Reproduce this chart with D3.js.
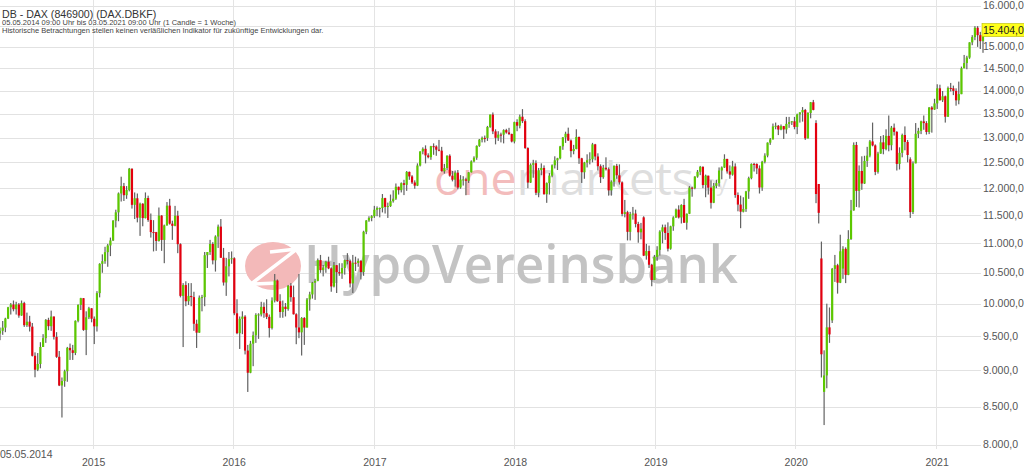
<!DOCTYPE html>
<html><head><meta charset="utf-8">
<script src="https://cdn.jsdelivr.net/npm/d3@7"></script>
<style>html,body{margin:0;padding:0;background:#fff;overflow:hidden}</style>
</head><body>
<svg id="chart" width="1024" height="474"></svg>
<script>
const titleText = "DB - DAX (846900) (DAX.DBKF)";
const subtitleText = "05.05.2014 09:00 Uhr bis 03.05.2021 09:00 Uhr (1 Candle = 1 Woche)";
const disclaimerText = "Historische Betrachtungen stellen keinen verläßlichen Indikator für zukünftige Entwicklungen dar.";
const firstWeek = "2014-05-05";
const lastWeek = "2021-05-03";
const startLabel = "05.05.2014";
const yearLabels = ["2015","2016","2017","2018","2019","2020","2021"];
const yTicks = [8000,8500,9000,9500,10000,10500,11000,11500,12000,12500,13000,13500,14000,14500,15000,15500,16000];
const lastPrice = 15404;

// weekly candles [open, high, low, close]
const c2014 = [
[9540,9630,9440,9581],[9581,9730,9520,9629],[9629,9780,9560,9768],[9768,9950,9760,9943],
[9943,10010,9830,9987],[9987,10050,9880,9913],[9913,10030,9830,9987],[9987,10010,9780,9815],[9815,10050,9810,10009],
[10009,10030,9640,9666],[9666,9860,9640,9720],[9720,9810,9570,9644],[9644,9700,9200,9210],
[9210,9260,8903,9010],[9010,9250,8990,9092],[9092,9410,9030,9339],[9339,9530,9340,9470],
[9470,9760,9400,9747],[9747,9780,9590,9651],[9651,9891,9580,9799],[9799,9800,9450,9490],[9490,9560,9180,9195],
[9195,9280,8780,8788],[8788,8900,8355,8850],[8850,9010,8770,8988],[8988,9340,8840,9326],
[9326,9390,9150,9291],[9291,9370,9150,9252],[9252,9740,9220,9733],[9733,9990,9710,9980],
[9980,10093,9900,10087],[10087,10090,9580,9594],[9594,9880,9220,9787],[9787,9950,9760,9927],[9927,9930,9710,9765]
];
const c2015 = [
[9765,9800,9382,9648],[9648,10200,9570,10168],[10168,10660,10100,10649],[10649,10810,10500,10694],
[10694,10940,10650,10847],[10847,10990,10600,10963],[10963,11100,10780,11050],[11050,11410,11040,11401],
[11401,11600,11280,11551],[11551,11920,11390,11901],[11901,12220,11750,12039],[12039,12100,11760,11868],[11868,12040,11800,11967],
[11967,12390,11940,12375],[12375,12380,11620,11689],[11689,11920,11430,11811],[11811,11900,11370,11454],
[11454,11730,11130,11709],[11709,11720,11300,11447],[11447,11920,11440,11815],[11815,11860,11380,11413],
[11413,11530,11100,11197],[11197,11410,10860,11196],[11196,11200,10870,11041],[11041,11640,11030,11492],[11492,11500,10870,11059],
[11059,11330,10660,11316],[11316,11740,11310,11674],[11674,11800,11330,11347],[11347,11400,11060,11308],
[11308,11670,11300,11490],[11490,11580,10830,10985],[10985,11000,10100,10124],[10124,10330,9338,10298],[10298,10360,9960,10038],
[10038,10330,9980,10123],[10123,10330,9960,10104],[10104,10190,9580,9688],[9688,9750,9325,9553],
[9553,10130,9550,10096],[10096,10140,9880,10104],[10104,10850,9960,10795],[10795,10850,10580,10850],
[10850,11060,10800,10988],[10988,11020,10640,10708],[10708,11140,10520,11119],[11119,11330,10920,11294],[11294,11430,10750,10752],
[10752,10920,10290,10340],[10340,10750,10124,10608],[10608,10850,10440,10727],[10727,10860,10650,10743]
];
const c2016 = [
[10743,10760,9820,9849],[9849,10070,9530,9545],[9545,9800,9310,9764],[9764,9880,9530,9798],
[9798,9820,9230,9286],[9286,9370,8699,8967],[8967,9430,8960,9388],[9388,9570,9060,9513],[9513,9850,9400,9824],
[9824,9850,9460,9831],[9831,10030,9800,9950],[9950,10020,9780,9851],[9851,10070,9760,9794],
[9794,9830,9480,9622],[9622,10100,9600,10051],[10051,10480,10020,10373],[10373,10390,10030,10039],
[10039,10150,9780,9870],[9870,10050,9780,9952],[9952,10010,9800,9916],[9916,10300,9890,10287],[10287,10330,10030,10103],
[10103,10290,9830,9834],[9834,9850,9380,9631],[9631,10480,9470,9557],[9557,9790,9214,9776],
[9776,9790,9370,9630],[9630,10090,9630,10067],[10067,10190,9890,10147],[10147,10350,10080,10337],
[10337,10400,10060,10367],[10367,10740,10360,10713],[10713,10800,10500,10544],[10544,10630,10440,10588],[10588,10700,10500,10684],
[10684,10770,10560,10573],[10573,10590,10190,10276],[10276,10680,10260,10626],[10626,10630,10170,10511],
[10511,10660,10450,10490],[10490,10660,10400,10580],[10580,10720,10470,10711],[10711,10830,10640,10696],[10696,10720,10260,10325],
[10325,10800,10170,10668],[10668,10770,10530,10664],[10664,10740,10600,10700],[10700,10710,10390,10513],
[10513,11220,10450,11203],[11203,11410,11160,11404],[11404,11480,11380,11450],[11450,11500,11390,11481]
];
const c2017 = [
[11481,11670,11450,11599],[11599,11660,11480,11629],[11629,11640,11460,11630],[11630,11890,11550,11814],[11814,11820,11530,11651],
[11651,11730,11450,11666],[11666,11880,11650,11757],[11757,11960,11730,11804],[11804,12090,11780,12027],
[12027,12030,11880,11963],[11963,12110,11920,12095],[12095,12160,11870,12064],[12064,12330,11950,12313],
[12313,12320,12160,12225],[12225,12250,12080,12109],[12109,12150,11990,12049],[12049,12480,12040,12438],
[12438,12720,12420,12717],[12717,12800,12660,12770],[12770,12840,12480,12638],[12638,12680,12580,12602],[12602,12830,12550,12823],
[12823,12880,12650,12816],[12816,12840,12630,12752],[12752,12951,12720,12733],[12733,12810,12320,12325],
[12325,12470,12280,12389],[12389,12640,12350,12631],[12631,12660,12220,12240],[12240,12330,12130,12162],[12162,12340,12030,12298],
[12298,12350,11980,12014],[12014,12250,11990,12165],[12165,12230,12050,12168],[12168,12200,11868,12142],
[12142,12310,12100,12304],[12304,12540,12300,12519],[12519,12620,12500,12592],[12592,12840,12550,12829],
[12829,12970,12810,12956],[12956,13020,12900,12992],[12992,13040,12900,12991],[12991,13240,12930,13218],[13218,13480,13200,13479],
[13479,13525,13070,13127],[13127,13170,12860,12994],[12994,13130,12930,13060],[13060,13100,12900,13058],
[13058,13170,12880,13153],[13153,13180,13080,13104],[13104,13200,13050,13072],[13072,13080,12900,12918]
];
const c2018 = [
[12918,13330,12880,13320],[13320,13380,13130,13245],[13245,13480,13190,13434],[13434,13596,13300,13340],[13340,13380,12770,12785],
[12785,12800,12000,12107],[12107,12480,12100,12452],[12452,12550,12200,12483],[12483,12540,11870,11914],
[11914,12390,11830,12346],[12346,12480,12250,12390],[12390,12440,11880,11886],[11886,12110,11726,12097],
[12097,12290,11880,12241],[12241,12460,12210,12442],[12442,12620,12380,12540],[12540,12590,12350,12580],[12580,12830,12560,12819],
[12819,13010,12750,13001],[13001,13120,12890,13077],[13077,13204,12930,12938],[12938,12960,12600,12724],
[12724,12850,12660,12767],[12767,13170,12760,13011],[13011,13020,12470,12580],[12580,12590,12100,12306],
[12306,12510,12180,12496],[12496,12660,12400,12541],[12541,12700,12460,12561],[12561,12890,12500,12860],[12860,12870,12540,12616],
[12616,12680,12340,12424],[12424,12460,12100,12211],[12211,12450,12180,12394],[12394,12600,12340,12364],
[12364,12400,11860,11959],[11959,12150,11860,12124],[12124,12440,12030,12431],[12431,12470,12180,12247],
[12247,12460,12070,12111],[12111,12130,11480,11523],[11523,11780,11460,11554],[11554,11580,11050,11201],[11201,11560,11050,11519],
[11519,11650,11420,11529],[11529,11600,11280,11341],[11341,11380,11010,11193],[11193,11360,11070,11257],
[11460,11480,10780,10788],[10788,10990,10720,10866],[10866,10960,10580,10634],[10634,10650,10279,10381],[10381,10800,10380,10767]
];
const c2019 = [
[10767,10950,10700,10887],[10887,11230,10790,11205],[11205,11330,11000,11282],[11282,11330,11060,11181],
[11181,11370,10860,10907],[10907,11310,10890,11299],[11299,11480,11220,11457],[11457,11620,11450,11602],
[11602,11680,11440,11458],[11458,11700,11350,11686],[11686,11800,11360,11364],[11364,11530,11240,11526],
[11526,12040,11520,12010],[12010,12030,11840,11999],[11999,12230,11980,12222],[12222,12350,12200,12315],[12315,12430,12250,12412],
[12412,12420,12000,12060],[12060,12260,11830,12239],[12239,12240,11880,12011],[12011,12150,11620,11727],
[11727,12100,11720,12045],[12045,12160,12000,12096],[12096,12400,12030,12340],[12340,12420,12170,12399],
[12399,12660,12390,12568],[12568,12570,12280,12323],[12323,12440,12180,12260],[12260,12530,12240,12419],[12419,12480,11820,11872],
[11872,11920,11570,11694],[11694,11860,11266,11563],[11563,11830,11550,11612],[11612,11950,11560,11939],
[11939,12220,11800,12192],[12192,12480,12170,12469],[12469,12490,12320,12468],[12468,12480,12270,12381],[12381,12440,11900,12013],
[12013,12530,11950,12512],[12512,12680,12480,12634],[12634,12900,12600,12895],[12895,12990,12850,12961],
[12961,13290,12960,13229],[13229,13310,13170,13242],[13242,13260,13050,13164],[13164,13270,13150,13236],
[13236,13240,12970,13167],[13167,13430,13080,13283],[13283,13430,13200,13319],[13319,13340,13260,13337],[13337,13430,13170,13219]
];
const c2020 = [
[13219,13500,13070,13483],[13483,13530,13310,13526],[13526,13640,13330,13577],[13577,13600,12950,12982],
[12982,13530,12980,13514],[13514,13750,13400,13744],[13744,13795,13570,13579],[13300,13360,11720,11890],
[12080,12080,11350,11542],[10740,11030,8900,9232],[8700,9290,8256,8929],[8929,10000,8750,9633],[9633,9940,9400,9526],
[9740,10580,9700,10565],[10565,10800,10350,10626],[10626,10650,10160,10337],[10337,11150,10330,10862],
[10570,10950,10400,10904],[10904,10930,10330,10465],[10465,11230,10460,11074],[11074,11780,11060,11587],
[11587,12900,11580,12848],[12848,12910,11650,11949],[11949,12440,11640,12331],[12331,12620,11970,12089],[12089,12630,12080,12528],
[12528,12810,12410,12634],[12634,12950,12600,12920],[12920,13310,12820,12838],[12838,12860,12250,12313],
[12313,12710,12280,12675],[12675,13030,12670,12901],[12901,13050,12660,12765],[12765,13170,12740,13033],[13033,13460,12720,12843],
[12843,13240,12740,13203],[13203,13290,13040,13116],[13116,13130,12340,12469],[12469,12800,12360,12689],
[12689,13080,12600,13051],[13051,13230,12740,12909],[12909,12950,12500,12646],[12560,12600,11450,11556],
[11556,12520,11520,12480],[12480,13300,12480,13077],[13077,13200,12990,13137],[13137,13350,13070,13335],[13335,13460,13160,13299],
[13299,13340,13060,13114],[13114,13640,13070,13631],[13631,13660,13100,13587],[13587,13820,13580,13719]
];
const c2021 = [
[13719,14140,13600,14050],[14050,14130,13780,13788],[13788,13990,13750,13874],[13874,13890,13310,13433],
[13433,14090,13430,14057],[14057,14170,13980,14050],[14050,14110,13900,13993],[13993,14050,13670,13786],
[13786,14200,13700,13921],[13921,14540,13920,14502],[14502,14810,14500,14621],[14621,14790,14480,14749],[14749,15110,14720,15107],
[15107,15280,15040,15234],[15234,15500,15160,15460],[15460,15500,15000,15280],[15280,15360,14950,15136],
[15136,15420,14860,15404]
];

const parse = d3.utcParse("%Y-%m-%d");
const weeks = d3.utcMonday.range(parse(firstWeek), d3.utcDay.offset(parse(lastWeek), 1));
const rows = [].concat(c2014, c2015, c2016, c2017, c2018, c2019, c2020, c2021);
const data = rows.map((r, i) => ({date: weeks[i], open: r[0], high: r[1], low: r[2], close: r[3]}));

const W = 1024, H = 474;
const svg = d3.select("#chart");
svg.append("rect").attr("width", W).attr("height", H).attr("fill", "#fff");

const x = d3.scaleUtc().domain([parse(firstWeek), parse(lastWeek)]).range([0, 983]);
const y = d3.scaleLog().domain([8000, 16000]).range([445, 6]);

const de = d3.formatLocale({decimal: ",", thousands: ".", grouping: [3], currency: ["", " €"]});
const fmt = de.format(",.1f");
const font = "'Liberation Sans', Arial, sans-serif";

// grid
const grid = svg.append("g");
grid.selectAll("line.h").data(yTicks).join("line")
  .attr("x1", 0).attr("x2", 981)
  .attr("y1", d => Math.round(y(d)) + 0.5).attr("y2", d => Math.round(y(d)) + 0.5)
  .attr("stroke", "#e2e2e2").attr("stroke-width", 1);
const yearDates = yearLabels.map(s => parse(s + "-01-01"));
grid.selectAll("line.v").data(yearDates).join("line")
  .attr("x1", d => Math.round(x(d)) + 0.5).attr("x2", d => Math.round(x(d)) + 0.5)
  .attr("y1", 0).attr("y2", 449)
  .attr("stroke", "#e4e4e4").attr("stroke-width", 1);

// watermark
const wm = svg.append("g");
const om = wm.append("text").attr("x", 434).attr("y", 195)
  .attr("font-family", "'Open Sans', sans-serif").attr("font-size", 46)
  .attr("textLength", 260).attr("lengthAdjust", "spacingAndGlyphs");
om.append("tspan").attr("fill", "#f3bcbc").text("one");
om.append("tspan").attr("fill", "#dedede").text("markets");
wm.append("text").attr("x", 704).attr("y", 191)
  .attr("font-family", "'Open Sans', sans-serif").attr("font-size", 21)
  .attr("fill", "#e3e3e3").text("by");
wm.append("ellipse").attr("cx", 273).attr("cy", 266).attr("rx", 28).attr("ry", 24).attr("fill", "#f3b9b9");
wm.append("polyline").attr("points", "270,252 297,249 251,284 278,283")
  .attr("fill", "none").attr("stroke", "#fff").attr("stroke-width", 3.5).attr("stroke-linejoin", "miter");
wm.append("text").attr("x", 304).attr("y", 283)
  .attr("font-family", "'Open Sans', sans-serif").attr("font-weight", 600).attr("font-size", 53)
  .attr("textLength", 434).attr("lengthAdjust", "spacingAndGlyphs")
  .attr("fill", "#c3c3c3").text("HypoVereinsbank");

// candles
const cg = svg.append("g");
const up = "#5cc800", down = "#e3000f";
const cand = cg.selectAll("g").data(data).join("g");
cand.append("rect")
  .attr("x", d => x(d.date) - 0.6).attr("width", 1.2)
  .attr("y", d => y(d.high)).attr("height", d => Math.max(0.8, y(d.low) - y(d.high)))
  .attr("fill", "#626262");
cand.append("rect")
  .attr("x", d => x(d.date) - 1.1).attr("width", 2.2)
  .attr("y", d => y(Math.max(d.open, d.close)))
  .attr("height", d => Math.max(1, Math.abs(y(d.open) - y(d.close))))
  .attr("fill", d => d.close >= d.open ? up : down);

// y labels (the one hidden under the last-price box is not shown, as in the reference)
const lastY = y(lastPrice);
svg.append("g").selectAll("text").data(yTicks.filter(d => Math.abs(y(d) - lastY) > 9)).join("text")
  .attr("x", 983).attr("y", d => y(d)).attr("dy", "0.33em")
  .attr("font-family", font).attr("font-size", 10.5).attr("fill", "#555")
  .text(d => fmt(d));

// last price box
const lp = svg.append("g");
lp.append("rect").attr("x", 982).attr("y", lastY - 6.5).attr("width", 44).attr("height", 13)
  .attr("fill", "#ffff1a").attr("stroke", "#b8b800").attr("stroke-width", 0.6);
lp.append("text").attr("x", 983).attr("y", lastY).attr("dy", "0.35em")
  .attr("font-family", font).attr("font-size", 10.5).attr("fill", "#222").text(fmt(lastPrice));

// x labels
svg.append("g").selectAll("text").data(yearDates).join("text")
  .attr("x", d => x(d) + 1).attr("y", 466).attr("text-anchor", "middle")
  .attr("font-family", font).attr("font-size", 10.5).attr("fill", "#555")
  .text((d, i) => yearLabels[i]);
svg.append("text").attr("x", 0).attr("y", 458)
  .attr("font-family", font).attr("font-size", 10.5).attr("fill", "#555").text(startLabel);

// titles
svg.append("text").attr("x", 2).attr("y", 17.5).attr("font-family", font).attr("font-size", 10.6)
  .attr("fill", "#333").text(titleText);
svg.append("text").attr("x", 2).attr("y", 24.5).attr("font-family", font).attr("font-size", 7.5)
  .attr("fill", "#444").text(subtitleText);
svg.append("text").attr("x", 2).attr("y", 32.5).attr("font-family", font).attr("font-size", 7.5)
  .attr("fill", "#444").text(disclaimerText);
</script>
</body></html>
